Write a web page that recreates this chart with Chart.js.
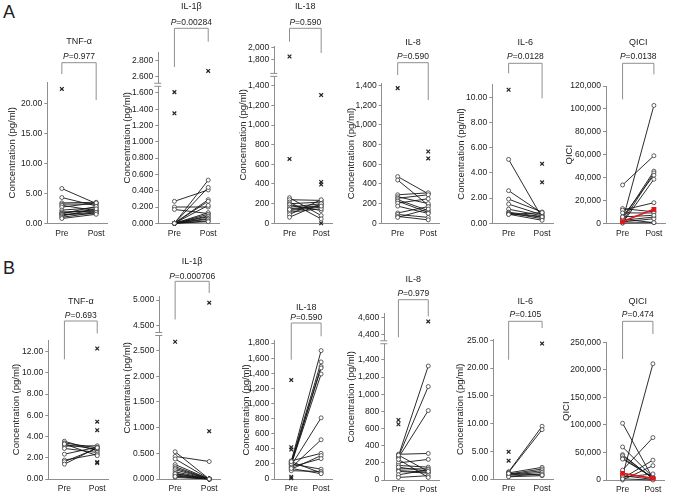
<!DOCTYPE html>
<html>
<head>
<meta charset="utf-8">
<script src="https://cdn.jsdelivr.net/npm/chart.js@4"></script>
<style>
  body { margin: 0; background: #fff; width: 677px; height: 497px; position: relative; overflow: hidden;
         font-family: 'Liberation Sans', Arial, Helvetica, sans-serif; }
  canvas { position: absolute; }
  .tag { position: absolute; font-size: 18px; color: #222; line-height: 1; }
</style>
</head>
<body>
<div class="tag" style="left:3px;top:3px">A</div>
<div class="tag" style="left:3px;top:259px">B</div>
<script>
// ---- row A ----
const aTnfPre   = [5.8, 4.3, 3.4, 3.2, 3.0, 2.7, 2.2, 1.9, 1.7, 1.6, 1.5, 1.4, 1.2, 1.0, 0.8];
const aTnfPost  = [3.3, 2.9, 3.5, 3.2, 2.1, 3.4, 2.6, 2.0, 2.3, 2.8, 1.6, 1.9, 2.4, 1.8, 1.5];
const aTnfOutPre = [22.4], aTnfOutPost = [];
const aTnfTicks = [0, 5, 10, 15, 20];

const aIl1bPre  = [0.27, 0.20, 0.17, 0, 0, 0, 0, 0, 0, 0, 0, 0, 0, 0, 0, 0];
const aIl1bPost = [0.41, 0.20, 0.12, 0.53, 0.44, 0.29, 0.27, 0.22, 0.13, 0.11, 0.09, 0.08, 0.06, 0.05, 0.03, 0.02];
const aIl1bOutPre = [1.61, 1.35], aIl1bOutPost = [2.67];
const aIl1bTicks = [0, 0.2, 0.4, 0.6, 0.8, 1.0, 1.2, 1.4, 1.6, 2.6, 2.8];

const aIl18Pre  = [260, 240, 216, 199, 189, 165, 148, 130, 113, 89, 62, 140];
const aIl18Post = [79, 233, 45, 216, 130, 199, 182, 165, 148, 240, 200, 175];
const aIl18OutPre = [1850, 655], aIl18OutPost = [1305, 420, 395, 0];
const aIl18Ticks = [0, 200, 400, 600, 800, 1000, 1200, 1400, 1800, 2000];

const aIl8Pre  = [475, 440, 290, 270, 255, 240, 225, 205, 175, 105, 90, 70, 60];
const aIl8Post = [300, 185, 310, 200, 290, 130, 110, 250, 100, 170, 60, 35, 145];
const aIl8OutPre = [1375], aIl8OutPost = [730, 660];
const aIl8Ticks = [0, 200, 400, 600, 800, 1000, 1200, 1400];

const aIl6Pre  = [5.07, 2.59, 1.92, 1.52, 1.12, 0.88, 0.82, 0.77, 0.72, 0.70];
const aIl6Post = [0.45, 0.80, 0.90, 0.67, 0.60, 0.53, 0.37, 0.50, 0.24, 0.85];
const aIl6OutPre = [10.6], aIl6OutPost = [4.72, 3.25];
const aIl6Ticks = [0, 2, 4, 6, 8, 10];

const aQiciPre  = [33500, 2500, 3500, 1200, 5600, 300, 12900, 11500, 9100, 2600, 1200, 3500, 5600, 300];
const aQiciPost = [59000, 103000, 45600, 44000, 42000, 38500, 10000, 18000, 9000, 5500, 4000, 600, 7000, 600];
const aQiciRed = [1500, 12200];
const aQiciTicks = [0, 20000, 40000, 60000, 80000, 100000, 120000];

// ---- row B ----
const bTnfPre  = [3.56, 3.40, 3.25, 3.10, 2.88, 2.34, 1.78, 1.63, 1.40, 3.30];
const bTnfPost = [2.66, 2.94, 2.81, 3.13, 2.50, 3.00, 2.34, 2.90, 2.95, 2.20];
const bTnfOutPre = [], bTnfOutPost = [12.3, 5.4, 4.6, 1.6, 1.5];
const bTnfTicks = [0, 2, 4, 6, 8, 10, 12];

const bIl1bPre  = [0.53, 0.44, 0.39, 0.28, 0.24, 0.21, 0.18, 0.14, 0.11, 0.08, 0.06, 0.03, 0.10, 0.05];
const bIl1bPost = [0, 0.34, 0, 0, 0, 0, 0, 0, 0, 0, 0, 0, 0, 0];
const bIl1bOutPre = [2.67], bIl1bOutPost = [4.95, 0.93];
const bIl1bTicks = [0, 0.5, 1.0, 1.5, 2.0, 2.5, 4.5, 5.0];

const bIl18Pre  = [235, 220, 210, 200, 190, 180, 150, 240, 130, 160, 200, 110, 230, 140];
const bIl18Post = [1700, 1550, 1490, 1470, 1390, 810, 520, 340, 310, 270, 130, 100, 80, 70];
const bIl18OutPre = [1310, 420, 390, 30, 10], bIl18OutPost = [];
const bIl18Ticks = [0, 200, 400, 600, 800, 1000, 1200, 1400, 1600, 1800];

const bIl8Pre  = [280, 270, 260, 300, 290, 200, 170, 130, 110, 100, 60, 30, 240, 150];
const bIl8Post = [1330, 1090, 810, 310, 100, 240, 150, 130, 90, 80, 120, 50, 30, 100];
const bIl8OutPre = [700, 650], bIl8OutPost = [4555];
const bIl8Ticks = [0, 200, 400, 600, 800, 1000, 1200, 1400, 4400, 4600];

const bIl6Pre  = [1.3, 1.2, 1.1, 0.9, 0.8, 0.7, 0.5, 0.4, 1.0];
const bIl6Post = [9.5, 8.9, 2.1, 1.8, 1.5, 1.2, 0.9, 0.6, 0.7];
const bIl6OutPre = [4.9, 3.3], bIl6OutPost = [24.4];
const bIl6Ticks = [0, 5, 10, 15, 20, 25];

const bQiciPre  = [8000, 18000, 103000, 60000, 46000, 44000, 40000, 38000, 3000, 0, 5000, 8000, 2000];
const bQiciPost = [211000, 77000, 3000, 5000, 2000, 3000, 4000, 5000, 36000, 26000, 11000, 1000, 0];
const bQiciRed = [12000, 3000];
const bQiciTicks = [0, 50000, 100000, 150000, 200000, 250000];

const FONT = "'Liberation Sans', Arial, Helvetica, sans-serif";
const INK = '#222';
const AXIS = '#8f8f8f';
const CONC = 'Concentration (pg/ml)';

const f2 = v => v.toFixed(2);
const f3 = v => v.toFixed(3);
const fk = v => Math.round(v).toLocaleString('en-US');

// layout of each small plot (page pixels); brk = broken axis mapping
const panels = [
  { top: 0, h: 248, zero: 223.3, topY: 82.3, axisX: 47.3, preX: 62.3, postX: 97.7, yMax: 23.5,
    pre: aTnfPre, post: aTnfPost, outPre: aTnfOutPre, outPost: aTnfOutPost, ticks: aTnfTicks, fmt: f2,
    title: 'TNF-α', p: '0.977', yTitle: CONC, dist: 34.6, titleY: 41.7, pY: 56.5, br: [62.7, 74, 100] },
  { top: 0, h: 248, zero: 223.3, topY: 52.2, axisX: 158.3, preX: 175, postX: 210, yMax: 2.1,
    pre: aIl1bPre, post: aIl1bPost, outPre: aIl1bOutPre, outPost: aIl1bOutPost, ticks: aIl1bTicks, fmt: f3,
    brk: { cut: 2.0, vBase: 2.6, tBase: 1.8, k: 1, mark: 1.7 },
    title: 'IL-1β', p: '0.00284', yTitle: CONC, dist: 30.6, titleY: 6.7, pY: 23, br: [28.3, 67, 41.7] },
  { top: 0, h: 248, zero: 223.3, topY: 46.4, axisX: 274.3, preX: 290, postX: 322.7, yMax: 1800,
    pre: aIl18Pre, post: aIl18Post, outPre: aIl18OutPre, outPost: aIl18OutPost, ticks: aIl18Ticks, fmt: fk,
    brk: { cut: 1550, vBase: 1600, tBase: 1550, k: 0.59, mark: 1510 },
    title: 'IL-18', p: '0.590', yTitle: CONC, dist: 31, titleY: 6.7, pY: 23, br: [28.3, 41.7, 53] },
  { top: 0, h: 248, zero: 223.3, topY: 83.7, axisX: 381.7, preX: 398.3, postX: 430, yMax: 1420,
    pre: aIl8Pre, post: aIl8Post, outPre: aIl8OutPre, outPost: aIl8OutPost, ticks: aIl8Ticks, fmt: fk,
    title: 'IL-8', p: '0.590', yTitle: CONC, dist: 30, titleY: 42.7, pY: 56.5, br: [62.7, 75, 100] },
  { top: 0, h: 248, zero: 223.3, topY: 84.7, axisX: 492.3, preX: 509, postX: 543.3, yMax: 11,
    pre: aIl6Pre, post: aIl6Post, outPre: aIl6OutPre, outPost: aIl6OutPost, ticks: aIl6Ticks, fmt: f2,
    title: 'IL-6', p: '0.0128', yTitle: CONC, dist: 30.6, titleY: 42.7, pY: 56.5, br: [63.3, 73.3, 98.3] },
  { top: 0, h: 248, zero: 223.3, topY: 86, axisX: 606, preX: 623.3, postX: 656, yMax: 120000,
    pre: aQiciPre, post: aQiciPost, outPre: [], outPost: [], red: aQiciRed, ticks: aQiciTicks, fmt: fk,
    title: 'QICI', p: '0.0138', yTitle: 'QICI', dist: 36.7, titleY: 42.7, pY: 56.5, br: [63.3, 99.3, 74.3] },

  { top: 248, h: 249, zero: 479, topY: 340, axisX: 48.3, preX: 65, postX: 99, yMax: 13.1,
    pre: bTnfPre, post: bTnfPost, outPre: bTnfOutPre, outPost: bTnfOutPost, ticks: bTnfTicks, fmt: f2,
    title: 'TNF-α', p: '0.693', yTitle: CONC, dist: 31.6, titleY: 302, pY: 316, br: [321, 359.3, 333.3] },
  { top: 248, h: 249, zero: 479, topY: 296.5, axisX: 159.3, preX: 175.7, postX: 211, yMax: 3.55,
    pre: bIl1bPre, post: bIl1bPost, outPre: bIl1bOutPre, outPost: bIl1bOutPost, ticks: bIl1bTicks, fmt: f3,
    brk: { cut: 3.5, vBase: 4.5, tBase: 2.98, k: 1, mark: 2.82 },
    title: 'IL-1β', p: '0.000706', yTitle: CONC, dist: 31.6, titleY: 262, pY: 276.3, br: [281.3, 319.5, 293] },
  { top: 248, h: 249, zero: 479, topY: 340.8, axisX: 274.3, preX: 291.7, postX: 322.3, yMax: 1830,
    pre: bIl18Pre, post: bIl18Post, outPre: bIl18OutPre, outPost: bIl18OutPost, ticks: bIl18Ticks, fmt: fk,
    title: 'IL-18', p: '0.590', yTitle: CONC, dist: 27.6, titleY: 307.3, pY: 318, br: [323, 359.7, 336.3] },
  { top: 248, h: 249, zero: 480, topY: 313.7, axisX: 384.3, preX: 399, postX: 430, yMax: 1940,
    pre: bIl8Pre, post: bIl8Post, outPre: bIl8OutPre, outPost: bIl8OutPost, ticks: bIl8Ticks, fmt: fk,
    brk: { cut: 2000, vBase: 4400, tBase: 1695, k: 1, mark: 1607 },
    title: 'IL-8', p: '0.979', yTitle: CONC, dist: 32.6, titleY: 279.7, pY: 293.7, br: [299.7, 337.3, 316.3] },
  { top: 248, h: 249, zero: 479, topY: 339.7, axisX: 493.3, preX: 509, postX: 543.3, yMax: 25.1,
    pre: bIl6Pre, post: bIl6Post, outPre: bIl6OutPre, outPost: bIl6OutPost, ticks: bIl6Ticks, fmt: f2,
    title: 'IL-6', p: '0.105', yTitle: CONC, dist: 33.3, titleY: 301.3, pY: 314.7, br: [321.3, 359.7, 328] },
  { top: 248, h: 249, zero: 480, topY: 342.3, axisX: 606, preX: 623.3, postX: 655, yMax: 250000,
    pre: bQiciPre, post: bQiciPost, outPre: [], outPost: [], red: bQiciRed, ticks: bQiciTicks, fmt: fk,
    title: 'QICI', p: '0.474', yTitle: 'QICI', dist: 39.3, titleY: 301.3, pY: 315, br: [321.3, 359, 334] }
];

panels.forEach(p => {
  const left = Math.round(p.axisX - p.dist - 5.4);
  const yw = p.axisX - left;
  const unit = p.postX - p.preX;
  const w = Math.ceil(p.postX + 15 - left);
  const padRight = w - (p.postX + 12 - left);
  const xHeight = p.top + p.h - p.zero;

  const cv = document.createElement('canvas');
  cv.width = w; cv.height = p.h;
  cv.style.left = left + 'px'; cv.style.top = p.top + 'px';
  cv.style.width = w + 'px'; cv.style.height = p.h + 'px';
  document.body.appendChild(cv);

  const tf = v => (p.brk && v > p.brk.cut) ? p.brk.tBase + (v - p.brk.vBase) * p.brk.k : v;
  const inv = t => (p.brk && t > p.brk.mark) ? p.brk.vBase + (t - p.brk.tBase) / p.brk.k : t;

  const pairs = [];
  p.pre.forEach((v, i) => {
    pairs.push({ x: 0, y: tf(v) }, { x: 1, y: tf(p.post[i]) }, { x: 0.5, y: null });
  });
  const outs = p.outPre.map(v => ({ x: 0, y: tf(v) })).concat(p.outPost.map(v => ({ x: 1, y: tf(v) })));

  const datasets = [
    { data: pairs, borderColor: '#151515', borderWidth: 0.9, spanGaps: false, clip: false,
      pointRadius: 2, pointBackgroundColor: '#fff', pointBorderColor: '#3a3a3a', pointBorderWidth: 0.8, order: 3 },
    { data: outs, showLine: false, clip: false, pointStyle: 'crossRot', pointRadius: 2.6,
      pointBorderColor: INK, pointBorderWidth: 1.2, order: 2 }
  ];
  if (p.red) {
    datasets.push({ data: [{ x: 0, y: p.red[0] }, { x: 1, y: p.red[1] }], borderColor: '#e3161b', borderWidth: 1.6,
      clip: false, pointStyle: 'rect', pointRadius: 2.3, pointBackgroundColor: '#e3161b',
      pointBorderColor: '#e3161b', order: 1 });
  }

  // title, P value, bracket and axis break marks
  const deco = {
    id: 'deco',
    afterDraw(chart) {
      const c = chart.ctx, xs = chart.scales.x, ys = chart.scales.y;
      const x0 = xs.getPixelForValue(0), x1 = xs.getPixelForValue(1), mid = (x0 + x1) / 2;
      const Y = v => v - p.top;
      c.save();
      c.strokeStyle = AXIS; c.lineWidth = 1;
      c.beginPath();
      c.moveTo(x0, Y(p.br[1])); c.lineTo(x0, Y(p.br[0]));
      c.lineTo(x1, Y(p.br[0])); c.lineTo(x1, Y(p.br[2]));
      c.stroke();
      c.fillStyle = INK; c.textBaseline = 'middle'; c.textAlign = 'center';
      c.font = '9px ' + FONT;
      c.fillText(p.title, mid, Y(p.titleY));
      const it = 'italic 8.5px ' + FONT, rg = '8.5px ' + FONT;
      c.font = it; const wp = c.measureText('P').width;
      c.font = rg; const wr = c.measureText('=' + p.p).width;
      const sx = mid - (wp + wr) / 2;
      c.textAlign = 'left';
      c.font = it; c.fillText('P', sx, Y(p.pY));
      c.font = rg; c.fillText('=' + p.p, sx + wp, Y(p.pY));
      if (p.brk) {
        const by = ys.getPixelForValue(p.brk.mark), ax = chart.chartArea.left;
        c.fillStyle = '#fff'; c.fillRect(ax - 2, by - 1.5, 4, 3);
        c.beginPath();
        c.moveTo(ax - 4, by - 1.5); c.lineTo(ax + 3, by - 1.5);
        c.moveTo(ax - 4, by + 1.5); c.lineTo(ax + 3, by + 1.5);
        c.stroke();
      }
      c.restore();
    }
  };

  new Chart(cv, {
    type: 'line',
    data: { datasets },
    plugins: [deco],
    options: {
      responsive: false,
      animation: false,
      layout: { padding: { top: p.topY - p.top, left: 0, right: padRight, bottom: 0 } },
      plugins: { legend: { display: false }, tooltip: { enabled: false } },
      scales: {
        x: {
          type: 'linear',
          min: -(p.preX - p.axisX) / unit,
          max: 1 + 12 / unit,
          afterFit(s) { s.height = xHeight; },
          afterBuildTicks(s) { s.ticks = [{ value: 0 }, { value: 1 }]; },
          ticks: { callback: v => (v === 0 ? 'Pre' : 'Post'), font: { family: FONT, size: 8.5 }, color: INK,
                   padding: 5, maxRotation: 0, autoSkip: false },
          grid: { display: false, drawTicks: false },
          border: { display: true, color: AXIS, width: 1 }
        },
        y: {
          type: 'linear',
          min: 0,
          max: p.yMax,
          afterFit(s) { s.width = yw; },
          afterBuildTicks(s) { s.ticks = p.ticks.map(v => ({ value: tf(v) })); },
          ticks: { callback: t => p.fmt(inv(t)), font: { family: FONT, size: 8.5 }, color: INK,
                   padding: 2, autoSkip: false },
          grid: { display: true, drawOnChartArea: false, drawTicks: true, tickLength: 3, color: AXIS, lineWidth: 1 },
          border: { display: true, color: AXIS, width: 1 },
          title: { display: true, text: p.yTitle, font: { family: FONT, size: 9.5 }, color: INK, padding: 0 }
        }
      }
    }
  });
});
</script>
</body>
</html>
